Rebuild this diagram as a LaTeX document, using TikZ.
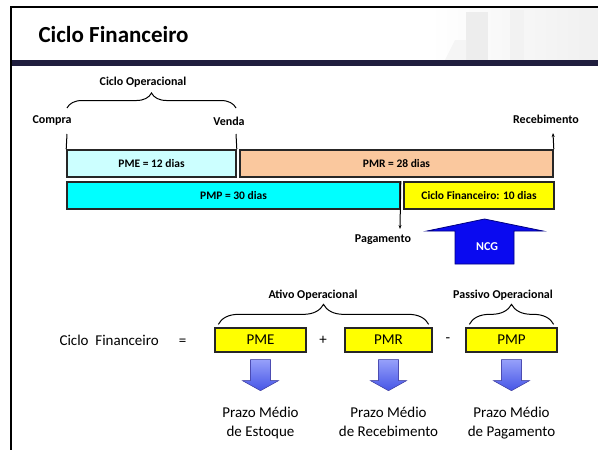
\documentclass[tikz,border=0pt]{standalone}
\usepackage{fontspec}
\setmainfont{Carlito}
\usetikzlibrary{arrows.meta,decorations.pathreplacing}
\definecolor{pmecol}{RGB}{204,255,255}
\definecolor{pmrcol}{RGB}{250,200,158}
\definecolor{pmpcol}{RGB}{0,255,255}
\definecolor{cfcol}{RGB}{255,255,0}
\definecolor{ncgcol}{RGB}{10,10,240}
\definecolor{bandcol}{RGB}{32,30,62}
\definecolor{downtop}{RGB}{150,160,250}
\definecolor{downbot}{RGB}{70,85,230}
\tikzset{
  bar/.style={draw=black!85, line width=1.6pt, minimum height=27pt, inner sep=0pt,
    font=\bfseries\fontsize{11.5}{13}\selectfont},
  term/.style={draw=black!85, line width=1.3pt, fill=cfcol, minimum width=91pt,
    minimum height=24pt, inner sep=0pt, font=\fontsize{15}{18}\selectfont},
  lbl/.style={font=\bfseries\fontsize{12}{14}\selectfont, inner sep=1pt},
  brc/.style={decorate, decoration={brace, amplitude=#1}, line width=1pt},
  desc/.style={align=center, anchor=north, font=\fontsize{15}{19}\selectfont},
  downarrow/.style={draw=blue!40!gray, line width=0.6pt, top color=downtop, bottom color=downbot},
  tick/.style={line width=1pt}
}
\begin{document}
\begin{tikzpicture}[x=1pt,y=-1pt]
\useasboundingbox (0,0) rectangle (598,450);
\shade[left color=white,right color=gray!12] (430,8) rectangle (598,60);
\fill[gray!14] (466,12) rectangle (488,60);
\fill[gray!10] (510,10) rectangle (524,60);
\fill[gray!8] (445,60) -- (455,40) -- (466,40) -- (466,60) -- cycle;
\fill[bandcol] (11,60) rectangle (598,66);
\draw[line width=1.5pt] (598,7) -- (11,7) -- (11,450);
\node[anchor=west, font=\bfseries\fontsize{23}{27}\selectfont] (title) at (35,35) {Ciclo Financeiro};

\node[bar, fill=pmecol, minimum width=169pt] (pme) at (151.5,163.5) {PME = 12 dias};
\node[bar, fill=pmrcol, minimum width=313pt] (pmr) at (396.5,163.5) {PMR = 28 dias};
\node[bar, fill=pmpcol, minimum width=333pt] (pmp) at (233.5,195.5) {PMP = 30 dias};
\node[bar, fill=cfcol, minimum width=150pt] (cf) at (479,195.5) {Ciclo Financeiro: 10 dias};

\node[lbl] (compra) at (52,121) {Compra};
\node[lbl] (venda) at (229,121) {Venda};
\node[lbl] (receb) at (546,119) {Recebimento};
\node[lbl] (pag) at (383,240) {Pagamento};
\node[lbl] (cop) at (143,82) {Ciclo Operacional};

\coordinate (tcompra) at (67,134);
\coordinate (tvenda) at (236,134);
\coordinate (treceb) at (553,133);
\coordinate (tpag) at (400,229);
\draw[tick] (tcompra) -- (pme.north west);
\draw[tick] (tvenda) -- (pme.north east);
\draw[tick,-{Stealth[length=4pt,width=3pt]}] (pmr.north east) -- (treceb);
\draw[tick,-{Stealth[length=4pt,width=3pt]}] (pmp.north east) -- (tpag);
\draw[brc=15] ([yshift=26pt]tcompra) -- ([yshift=26pt]tvenda);

\filldraw[fill=ncgcol, draw=blue!50!black, line width=0.8pt] (484.5,219) -- (543,231) -- (514,231)
  -- (514,264) -- (455,264) -- (455,231) -- (427,231) -- cycle;
\node[font=\bfseries\fontsize{12}{14}\selectfont, text=white] (ncg) at (487,247) {NCG};

\node[anchor=west, font=\fontsize{15}{18}\selectfont] (eq) at (56,340) {Ciclo\hspace{0.45em}Financeiro\hspace{20pt}=};
\node[term] (bpme) at (260.5,340) {PME};
\node[term, minimum width=87pt] (bpmr) at (388.5,340) {PMR};
\node[term] (bpmp) at (511.5,340) {PMP};
\node[font=\fontsize{15}{18}\selectfont] (plus) at (323,340) {+};
\node[font=\fontsize{15}{18}\selectfont] (minus) at (448,340) {-};

\draw[brc=20] ([shift={(4,-3)}]bpme.north west) -- ([shift={(-4,-3)}]bpmr.north east);
\draw[brc=20] ([shift={(4,-3)}]bpmp.north west) -- ([shift={(-4,-3)}]bpmp.north east);
\node[lbl] (ativo) at (313,295) {Ativo Operacional};
\node[lbl] (passivo) at (503,295) {Passivo Operacional};

\foreach \b in {bpme,bpmr,bpmp}
  \filldraw[downarrow] ([shift={(-10,7)}]\b.south) -- ++(20,0) -- ++(0,21) -- ++(8,0)
    -- ++(-18,10) -- ++(-18,-10) -- ++(8,0) -- cycle;

\node[desc] (dpme) at (260.5,404) {Prazo Médio\\de Estoque};
\node[desc] (dpmr) at (388.5,404) {Prazo Médio\\de Recebimento};
\node[desc] (dpmp) at (511.5,404) {Prazo Médio\\de Pagamento};
\end{tikzpicture}
\end{document}
